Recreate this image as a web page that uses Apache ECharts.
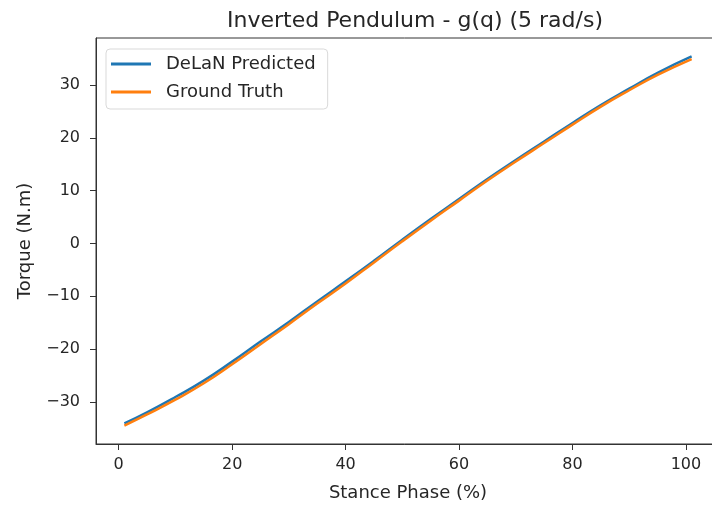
<!DOCTYPE html>
<html>
<head>
<meta charset="utf-8">
<script src="https://cdn.jsdelivr.net/npm/echarts@6/dist/echarts.min.js"></script>
<style>
  html, body { margin: 0; padding: 0; background: #fff; }
  #chart { width: 712px; height: 510px; }
</style>
</head>
<body>
<div id="chart"></div>
<script>
// stance phase (%) sample points
const phase = [1, 5, 10, 15, 20, 25, 30, 35, 40, 45, 50, 55, 60, 65, 70, 75, 80, 85, 90, 95, 101];
// torque
const predicted = [-34.1, -32.0, -29.1, -26.0, -22.4, -18.6, -14.9, -11.0, -7.2, -3.3, 0.7, 4.6, 8.4, 12.2, 15.8, 19.3, 22.8, 26.2, 29.3, 32.3, 35.4];
const groundTruth = [-34.5, -32.4, -29.6, -26.5, -22.9, -19.1, -15.3, -11.4, -7.6, -3.6, 0.4, 4.3, 8.1, 11.9, 15.5, 19.0, 22.5, 25.9, 29.0, 31.9, 34.9];
const xTicks = [0, 20, 40, 60, 80, 100];
const yTicks = [-30, -20, -10, 0, 10, 20, 30];

const font = "DejaVu Sans";
const ink = "#262626";
// matplotlib style minus sign
const fmt = (v) => String(v).replace("-", "\u2212");

var myChart = echarts.init(document.getElementById("chart"));
var option = {
  animation: false,
  title: {
    text: "Inverted Pendulum - g(q) (5 rad/s)",
    left: 410,
    top: 5,
    textAlign: "center",
    textStyle: { fontFamily: font, fontSize: 22, fontWeight: "normal", color: ink },
  },
  legend: {
    orient: "vertical",
    left: 106,
    top: 49,
    padding: [5, 12, 7, 5],
    itemGap: 8,
    itemWidth: 40,
    itemHeight: 3,
    icon: "rect",
    borderColor: "#d9d9d9",
    borderWidth: 1,
    borderRadius: 4,
    textStyle: { fontFamily: font, fontSize: 18, lineHeight: 20, color: ink, padding: [0, 0, 0, 10] },
    data: ["DeLaN Predicted", "Ground Truth"],
  },
  grid: {
    left: 96,
    right: -8,
    top: 38,
    bottom: 66,
    show: true,
    borderColor: "#333",
    borderWidth: 1,
    outerBoundsMode: "none",
  },
  xAxis: {
    type: "value",
    min: -4,
    max: 106,
    name: "Stance Phase (%)",
    nameLocation: "middle",
    nameGap: 40,
    nameTextStyle: { fontFamily: font, fontSize: 18, color: ink },
    axisLine: { show: true, onZero: false, lineStyle: { color: "#333", width: 1 } },
    axisTick: { show: true, length: 6, customValues: xTicks, lineStyle: { color: "#333" } },
    axisLabel: { customValues: xTicks, formatter: fmt, fontFamily: font, fontSize: 16, color: ink, margin: 13 },
    splitLine: { show: false },
  },
  yAxis: {
    type: "value",
    min: -38.0,
    max: 38.9,
    name: "Torque (N.m)",
    nameLocation: "middle",
    nameGap: 62,
    nameTextStyle: { fontFamily: font, fontSize: 18, color: ink },
    axisLine: { show: true, onZero: false, lineStyle: { color: "#333", width: 1 } },
    axisTick: { show: true, length: 6, customValues: yTicks, lineStyle: { color: "#333" } },
    axisLabel: { customValues: yTicks, formatter: fmt, fontFamily: font, fontSize: 16, color: ink, margin: 16 },
    splitLine: { show: false },
  },
  series: [
    {
      name: "DeLaN Predicted",
      type: "line",
      symbol: "none",
      smooth: true,
      data: phase.map((x, i) => [x, predicted[i]]),
      lineStyle: { width: 2.5, color: "#1f77b4" },
      itemStyle: { color: "#1f77b4" },
    },
    {
      name: "Ground Truth",
      type: "line",
      symbol: "none",
      smooth: true,
      data: phase.map((x, i) => [x, groundTruth[i]]),
      lineStyle: { width: 2.5, color: "#ff7f0e" },
      itemStyle: { color: "#ff7f0e" },
    },
  ],
};
myChart.setOption(option);
</script>
</body>
</html>
